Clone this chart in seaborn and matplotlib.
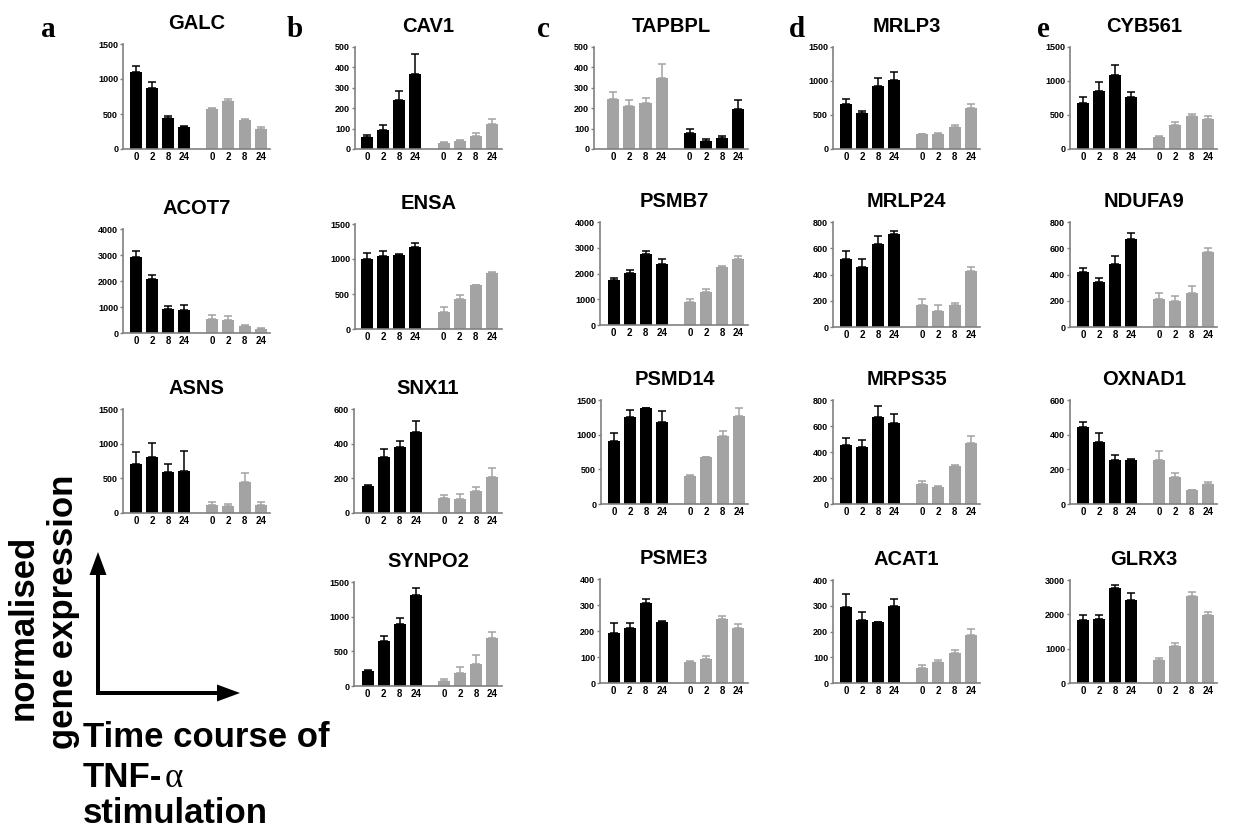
import numpy as np
import pandas as pd
import matplotlib
matplotlib.use("Agg")
import matplotlib.pyplot as plt
import seaborn as sns

sns.set_theme(style="ticks")
plt.rcParams['font.family'] = ['Liberation Sans', 'DejaVu Sans']
plt.rcParams['text.color'] = 'black'
plt.rcParams['xtick.color'] = 'black'
plt.rcParams['ytick.color'] = 'black'

HOURS = ["0", "2", "8", "24"]
BAR_POS = [0, 1, 2, 3, 4.75, 5.75, 6.75, 7.75]

# column a
galc_mean = [1100, 870, 440, 310, 570, 690, 410, 290]
galc_err = [80, 80, 30, 12, 22, 25, 15, 25]
acot7_mean = [2930, 2060, 940, 870, 540, 510, 260, 170]
acot7_err = [230, 190, 115, 190, 140, 150, 65, 40]
asns_mean = [707, 807, 587, 602, 120, 95, 440, 120]
asns_err = [172, 196, 120, 291, 45, 30, 143, 35]

# column b
cav1_mean = [59, 92, 239, 368, 29, 38, 64, 123]
cav1_err = [11, 27, 44, 96, 5, 6, 13, 24]
ensa_mean = [1002, 1045, 1064, 1170, 240, 431, 623, 805]
ensa_err = [77, 67, 10, 52, 76, 58, 10, 15]
snx11_mean = [158, 323, 381, 469, 87, 81, 129, 208]
snx11_err = [4, 48, 34, 64, 15, 27, 23, 50]
synpo2_mean = [221, 644, 894, 1308, 67, 188, 317, 692]
synpo2_err = [15, 72, 92, 101, 39, 86, 125, 87]

# column c (TAPBPL has the grey group first)
tapbpl_mean = [243, 210, 224, 347, 79, 41, 56, 197]
tapbpl_err = [37, 31, 28, 69, 21, 8, 10, 44]
psmb7_mean = [1735, 2005, 2763, 2352, 874, 1285, 2249, 2570]
psmb7_err = [103, 115, 129, 218, 154, 115, 26, 116]
psmd14_mean = [913, 1260, 1380, 1178, 409, 673, 981, 1274]
psmd14_err = [106, 91, 5, 168, 9, 10, 67, 111]
psme3_mean = [193, 210, 309, 233, 79, 92, 246, 212]
psme3_err = [36, 19, 13, 7, 5, 12, 12, 14]

# column d
mrlp3_mean = [660, 530, 930, 1020, 215, 220, 320, 610]
mrlp3_err = [80, 30, 110, 110, 10, 15, 40, 50]
mrlp24_mean = [520, 460, 630, 705, 170, 125, 165, 425]
mrlp24_err = [60, 60, 60, 25, 40, 40, 15, 30]
mrps35_mean = [455, 435, 670, 625, 155, 130, 290, 470]
mrps35_err = [55, 55, 80, 70, 20, 10, 10, 55]
acat1_mean = [295, 245, 235, 298, 60, 80, 115, 185]
acat1_err = [50, 30, 3, 27, 8, 8, 13, 23]

# column e
cyb561_mean = [680, 860, 1090, 770, 180, 360, 490, 440]
cyb561_err = [80, 130, 140, 70, 10, 40, 30, 40]
ndufa9_mean = [420, 345, 480, 670, 210, 200, 260, 570]
ndufa9_err = [30, 30, 60, 50, 50, 35, 50, 35]
oxnad1_mean = [445, 360, 255, 252, 255, 155, 78, 118]
oxnad1_err = [30, 50, 25, 8, 50, 25, 4, 10]
glrx3_mean = [1830, 1870, 2760, 2430, 680, 1090, 2520, 1970]
glrx3_err = [150, 120, 90, 190, 50, 80, 130, 90]

# gene, mean, err, y max, y step, grey group first
GENES = [
    ("GALC", galc_mean, galc_err, 1500, 500, False),
    ("ACOT7", acot7_mean, acot7_err, 4000, 1000, False),
    ("ASNS", asns_mean, asns_err, 1500, 500, False),
    ("CAV1", cav1_mean, cav1_err, 500, 100, False),
    ("ENSA", ensa_mean, ensa_err, 1500, 500, False),
    ("SNX11", snx11_mean, snx11_err, 600, 200, False),
    ("SYNPO2", synpo2_mean, synpo2_err, 1500, 500, False),
    ("TAPBPL", tapbpl_mean, tapbpl_err, 500, 100, True),
    ("PSMB7", psmb7_mean, psmb7_err, 4000, 1000, False),
    ("PSMD14", psmd14_mean, psmd14_err, 1500, 500, False),
    ("PSME3", psme3_mean, psme3_err, 400, 100, False),
    ("MRLP3", mrlp3_mean, mrlp3_err, 1500, 500, False),
    ("MRLP24", mrlp24_mean, mrlp24_err, 800, 200, False),
    ("MRPS35", mrps35_mean, mrps35_err, 800, 200, False),
    ("ACAT1", acat1_mean, acat1_err, 400, 100, False),
    ("CYB561", cyb561_mean, cyb561_err, 1500, 500, False),
    ("NDUFA9", ndufa9_mean, ndufa9_err, 800, 200, False),
    ("OXNAD1", oxnad1_mean, oxnad1_err, 600, 200, False),
    ("GLRX3", glrx3_mean, glrx3_err, 3000, 1000, False),
]

# layout in pixels: y-axis x, top, bottom, left padding in bar slots
LAYOUT = [
    (123, 44, 149, 0.8), (123, 229, 333, 0.8), (123, 409, 513, 0.8),
    (355, 47, 149, 0.75), (355, 224, 329, 0.75), (354, 409, 513, 0.85), (354, 582, 686, 0.85),
    (594, 47, 149, 1.2), (600, 222, 325, 0.85), (601, 400, 504, 0.8), (600, 579, 683, 0.85),
    (833, 47, 149, 0.8), (833, 222, 327, 0.8), (833, 400, 504, 0.8), (833, 580, 683, 0.8),
    (1070, 47, 149, 0.8), (1070, 222, 327, 0.8), (1070, 400, 504, 0.8), (1070, 580, 683, 0.8),
]

FIG_W, FIG_H = 1249, 830
UNIT = 16.1
RIGHT_PAD = 0.6
BLACK = "#000000"
GREY = "#a3a3a3"
AXIS_GREY = "#808080"


def draw_panel(ax, title, mean, err, ymax, ystep, grey_first, pad):
    groups = ["other"] * 4 + ["main"] * 4 if grey_first else ["main"] * 4 + ["other"] * 4
    df = pd.DataFrame({"pos": BAR_POS, "value": mean, "err": err, "group": groups})
    sns.barplot(data=df, x="pos", y="value", hue="group",
                palette={"main": BLACK, "other": GREY}, native_scale=True,
                width=0.75, dodge=False, errorbar=None, saturation=1,
                linewidth=0, legend=False, ax=ax)
    for grp, color in (("main", BLACK), ("other", GREY)):
        sub = df[df["group"] == grp]
        ax.errorbar(sub["pos"], sub["value"],
                    yerr=[np.zeros(len(sub)), sub["err"]], fmt="none",
                    ecolor=color, elinewidth=1.1, capsize=2.6, capthick=1.1,
                    zorder=3)
    ax.set_xlim(-pad, BAR_POS[-1] + RIGHT_PAD)
    ax.set_ylim(0, ymax)
    ax.set_xticks(BAR_POS)
    ax.set_xticklabels(HOURS * 2)
    ax.set_yticks(np.arange(0, ymax + 1, ystep))
    ax.set_xlabel("")
    ax.set_ylabel("")
    ax.set_title(title, fontsize=14.5, fontweight="bold", pad=11, color="black")
    sns.despine(ax=ax)
    for s in ("left", "bottom"):
        ax.spines[s].set_color(AXIS_GREY)
        ax.spines[s].set_linewidth(1.2)
    ax.tick_params(axis="x", length=0, labelsize=7, pad=2, labelcolor="black")
    ax.tick_params(axis="y", length=2.5, width=1, color=AXIS_GREY,
                   labelsize=6.5, pad=1, labelcolor="black")
    for lab in ax.get_xticklabels() + ax.get_yticklabels():
        lab.set_fontweight("bold")


fig = plt.figure(figsize=(FIG_W / 100, FIG_H / 100), dpi=100, facecolor="white")

# overlay in pixel coordinates for labels and arrows
over = fig.add_axes([0, 0, 1, 1])
over.set_xlim(0, FIG_W)
over.set_ylim(FIG_H, 0)
over.axis("off")
over.patch.set_alpha(0)

for (gene, mean, err, ymax, ystep, grey_first), (left, top, bottom, pad) in zip(GENES, LAYOUT):
    width = (pad + BAR_POS[-1] + RIGHT_PAD) * UNIT
    ax = fig.add_axes([left / FIG_W, 1 - bottom / FIG_H, width / FIG_W, (bottom - top) / FIG_H])
    draw_panel(ax, gene, mean, err, ymax, ystep, grey_first, pad)

for letter, x in zip("abcde", [48, 295, 543, 797, 1043]):
    over.text(x, 37, letter, fontsize=21, fontweight="bold", ha="center",
              va="baseline", color="black", family=["Liberation Serif", "DejaVu Serif"])

over.arrow(98, 695, 0, -143, width=4, head_width=17, head_length=23,
           length_includes_head=True, fc="black", ec="none")
over.arrow(96, 693, 144, 0, width=4, head_width=17, head_length=23,
           length_includes_head=True, fc="black", ec="none")

label_kw = dict(fontsize=25, fontweight="bold", color="black")
over.text(33, 627, "normalised", rotation=90, rotation_mode="anchor",
          ha="center", va="baseline", **label_kw)
over.text(73, 612, "gene expression", rotation=90, rotation_mode="anchor",
          ha="center", va="baseline", **label_kw)
over.text(83, 747, "Time course of", ha="left", va="baseline", **label_kw)
over.text(83, 787, "TNF-", ha="left", va="baseline", **label_kw)
over.text(165, 787, "α", ha="left", va="baseline", fontsize=25, color="black",
          family=["Liberation Serif", "DejaVu Serif"])
over.text(83, 823, "stimulation", ha="left", va="baseline", **label_kw)

fig.savefig("out.png", dpi=100, facecolor="white")
